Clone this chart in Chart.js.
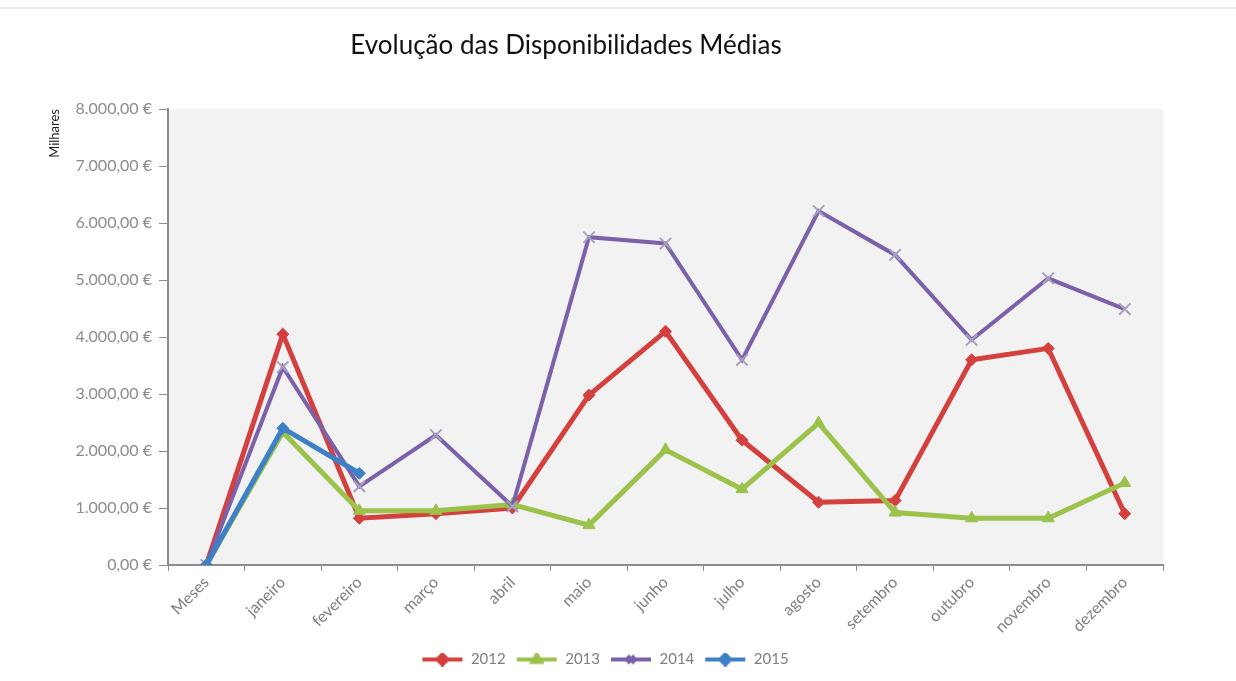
<!DOCTYPE html>
<html>
<head>
<meta charset="utf-8">
<title>Evolução das Disponibilidades Médias</title>
<style>
html, body {
  margin:0px;
  background:#ffffff;
}
.topline {
  position:absolute; left:0; top:7px; width:1236px; height:0;
  border-top:2px solid #ececec;
}
.chart-container {
  position:relative; width:1236px; height:681px;
}
</style>
<script src="https://cdn.jsdelivr.net/npm/chart.js@4.4.1/dist/chart.umd.min.js"></script>
</head>
<body>
<div class="topline"></div>
<div class="chart-container">
<canvas id="myChart"></canvas>
</div>
<script>
const chartTitle = "Evolução das Disponibilidades Médias";
const yTitle = "Milhares";
const meses = ["Meses", "janeiro", "fevereiro", "março", "abril", "maio", "junho",
               "julho", "agosto", "setembro", "outubro", "novembro", "dezembro"];
const yTicks = [0, 1000, 2000, 3000, 4000, 5000, 6000, 7000, 8000];

// valores em milhares de euros
const d2012 = [0, 4050, 820, 900, 1000, 2980, 4100, 2190, 1100, 1130, 3600, 3800, 900];
const d2013 = [0, 2330, 950, 950, 1060, 700, 2020, 1330, 2490, 920, 820, 820, 1440];
const d2014 = [0, 3470, 1380, 2280, 1030, 5750, 5640, 3600, 6210, 5440, 3950, 5030, 4490];
const d2015 = [0, 2400, 1610, null, null, null, null, null, null, null, null, null, null];

function euro(v) {
  // 8000 -> "8.000,00 €"
  let s = v.toFixed(2).split('.');
  let inteiro = s[0].replace(/\B(?=(\d{3})+(?!\d))/g, '.');
  return inteiro + ',' + s[1] + ' €';
}

// legend swatch: line with marker, like the spreadsheet legend
function swatch(color, style) {
  const c = document.createElement('canvas');
  c.width = 42; c.height = 14;
  const g = c.getContext('2d');
  g.strokeStyle = color; g.lineWidth = 4;
  g.beginPath(); g.moveTo(1, 7); g.lineTo(41, 7); g.stroke();
  g.fillStyle = color; g.strokeStyle = color;
  Chart.helpers.drawPoint(g, {pointStyle: style, radius: 5, borderWidth: 2, rotation: 0},
    21, 7);
  return c;
}

const bgPlugin = {
  id: 'plotBg',
  beforeDraw(chart) {
    const a = chart.chartArea, ctx = chart.ctx;
    ctx.save();
    ctx.fillStyle = '#f2f2f2';
    ctx.fillRect(a.left, a.top, a.right - a.left, a.bottom - a.top);
    ctx.restore();
  },
  afterDraw(chart) {
    const ctx = chart.ctx;
    ctx.save();
    ctx.font = '26px Lato';
    ctx.fillStyle = '#111111';
    ctx.textAlign = 'center';
    ctx.textBaseline = 'middle';
    ctx.fillText(chartTitle, 566, 46);
    ctx.restore();
  }
};

const series = [
  {label: "2012", data: d2012, color: "#d3403e", style: 'rectRot', radius: 6, width: 5, order: 4},
  {label: "2013", data: d2013, color: "#9bc24a", style: 'triangle', radius: 7, width: 5, order: 3},
  {label: "2014", data: d2014, color: "#7b60aa", style: 'crossRot', radius: 8, width: 4, order: 2},
  {label: "2015", data: d2015, color: "#3d80c8", style: 'rectRot', radius: 6, width: 5, order: 1}
];

const ctx = document.getElementById('myChart');
const myChart = new Chart(ctx, {
  type: 'line',
  data: {
    labels: meses,
    datasets: series.map(s => ({
      label: s.label,
      data: s.data,
      borderColor: s.color,
      backgroundColor: s.color,
      borderWidth: s.width,
      pointStyle: s.style,
      pointRadius: s.radius,
      pointBorderWidth: s.style === 'crossRot' ? 2 : 1,
      pointBorderColor: s.style === 'crossRot' ? '#a99fc0' : s.color,
      pointBackgroundColor: s.color,
      order: s.order,
      tension: 0,
      spanGaps: false,
      fill: false
    }))
  },
  options: {
    responsive: true,
    maintainAspectRatio: false,
    animation: false,
    layout: {padding: {left: 47, right: 73, top: 109, bottom: 4}},
    plugins: {
      title: {display: false},
      tooltip: {enabled: false},
      legend: {
        position: 'bottom',
        labels: {
          font: {family: 'Lato', size: 15},
          color: '#7f7f7f',
          usePointStyle: true,
          pointStyleWidth: 42,
          boxHeight: 14,
          padding: 10,
          generateLabels(chart) {
            return series.map((s, i) => ({
              text: s.label,
              datasetIndex: i,
              fontColor: '#7f7f7f',
              pointStyle: swatch(s.color, s.style),
              lineWidth: 0,
              hidden: false
            }));
          }
        }
      }
    },
    scales: {
      x: {
        offset: true,
        grid: {
          offset: true,
          drawOnChartArea: false,
          drawTicks: true,
          tickLength: 6,
          color: '#8c8c8c'
        },
        border: {color: '#8c8c8c', width: 2},
        ticks: {
          font: {family: 'Lato', size: 16},
          color: '#7f7f7f',
          minRotation: 45,
          maxRotation: 45,
          padding: 2
        },
        afterFit(scale) { scale.height = 77; }
      },
      y: {
        min: 0,
        max: 8000,
        afterBuildTicks(scale) { scale.ticks = yTicks.map(v => ({value: v})); },
        grid: {
          drawOnChartArea: false,
          drawTicks: true,
          tickLength: 9,
          color: '#8c8c8c'
        },
        border: {color: '#8c8c8c', width: 2},
        ticks: {
          font: {family: 'Lato', size: 16},
          color: '#8c8c8c',
          padding: 7,
          callback: v => euro(v)
        },
        title: {
          display: true,
          text: yTitle,
          align: 'end',
          font: {family: 'Lato', size: 13},
          color: '#1a1a1a',
          padding: {top: 0, bottom: 0}
        },
        afterFit(scale) { scale.width = 121; }
      }
    }
  },
  plugins: [bgPlugin]
});
</script>
</body>
</html>
